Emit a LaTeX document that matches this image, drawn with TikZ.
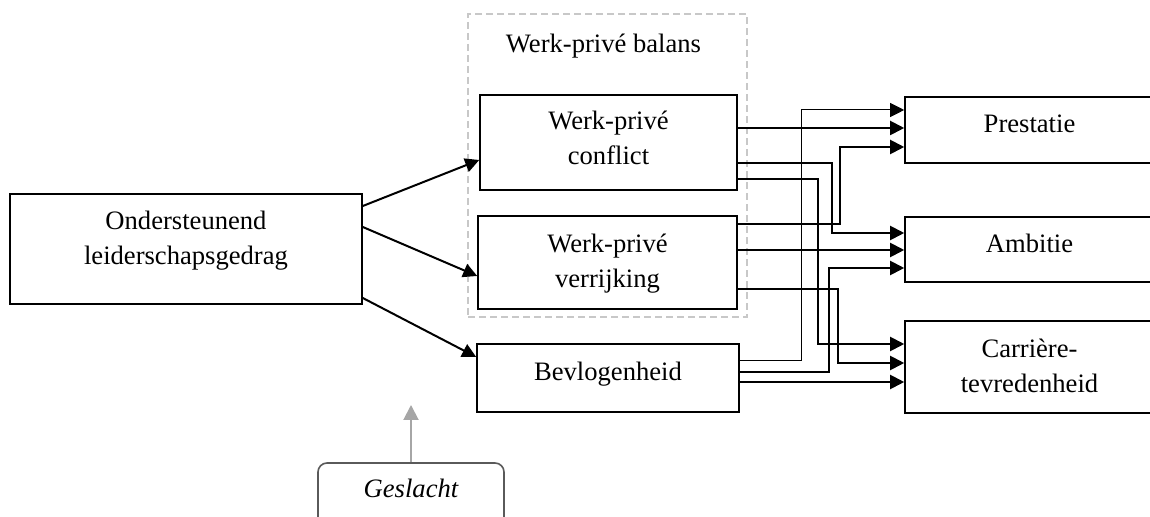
\documentclass[tikz,border=0pt]{standalone}
\usepackage{fontspec}
\setmainfont{Liberation Serif}
\usetikzlibrary{arrows.meta}
\definecolor{dashgray}{RGB}{200,200,200}
\definecolor{geslgray}{RGB}{90,90,90}
\definecolor{arrgray}{RGB}{166,166,166}
\begin{document}
\begin{tikzpicture}[x=0.5pt,y=-0.5pt,
  font=\fontsize{13.3}{17.5}\selectfont,
  box/.style={draw, line width=0.8pt, inner sep=0pt, align=center, anchor=base},
  conn/.style={line width=1pt, -{Triangle[length=7pt,width=7pt]}},
  thinconn/.style={line width=0.5pt, -{Triangle[length=7pt,width=7pt]}},
  grp/.style={draw=dashgray, line width=0.75pt, dash pattern=on 3.5pt off 2pt, inner sep=0pt},
]
\clip (0,0) rectangle (1150,517);

% group box
\node[grp, minimum width=139.5pt, minimum height=151.5pt] (wpb) at (607.5,165.5) {};
\node[anchor=base] (wpbt) at (603.5,53) {Werk-privé balans};

% boxes
\node[box, text width=176pt, text height=18pt, text depth=37pt] (ond) at (186,230) {Ondersteunend\\leiderschapsgedrag};
\node[box, text width=128.5pt, text height=17.5pt, text depth=30pt] (conf) at (608.5,130) {Werk-privé\\conflict};
\node[box, text width=129.5pt, text height=18.5pt, text depth=28pt] (verr) at (607.5,253) {Werk-privé\\verrijking};
\node[box, text width=131pt, text height=18.5pt, text depth=15.5pt] (bev) at (608,381) {Bevlogenheid};
\node[box, text width=124.5pt, text height=18pt, text depth=15pt] (pres) at (1029.5,133) {Prestatie};
\node[box, text width=124.5pt, text height=18pt, text depth=14.5pt] (amb) at (1029.5,253) {Ambitie};
\node[box, text width=124.5pt, text height=18.5pt, text depth=27.5pt] (carr) at (1029.5,358) {Carrière-\\tevredenheid};
\node[draw=geslgray, rounded corners=4.5pt, line width=0.8pt, inner sep=0pt, align=center, anchor=base,
      text width=93pt, text height=17pt, text depth=21.5pt, font=\fontsize{13.3}{17.5}\selectfont\itshape] (gesl) at (411,497) {Geslacht};

% left connectors
\draw[conn] (ond.east |- 0,206) -- (conf.west |- 0,160);
\draw[conn] (ond.east |- 0,227) -- (verr.west |- 0,276);
\draw[conn] (ond.east |- 0,298) -- (bev.west |- 0,357);

% right connectors
\draw[thinconn] (bev.east |- 0,361) -- (801,361) -- (801,110) -- (pres.west |- 0,110);
\draw[conn] (conf.east |- 0,128) -- (pres.west |- 0,128);
\draw[conn] (verr.east |- 0,224) -- (840,224) -- (840,147) -- (pres.west |- 0,147);

\draw[conn] (conf.east |- 0,163) -- (832,163) -- (832,233) -- (amb.west |- 0,233);
\draw[conn] (verr.east |- 0,250) -- (amb.west |- 0,250);
\draw[conn] (bev.east |- 0,372) -- (829,372) -- (829,268) -- (amb.west |- 0,268);

\draw[conn] (conf.east |- 0,179) -- (818,179) -- (818,344) -- (carr.west |- 0,344);
\draw[conn] (verr.east |- 0,289) -- (838,289) -- (838,363) -- (carr.west |- 0,363);
\draw[conn] (bev.east |- 0,382) -- (carr.west |- 0,382);

% moderator arrow
\coordinate (gtip) at (411,405);
\draw[line width=1pt, arrgray, -{Triangle[length=7.5pt,width=7.5pt]}] (gesl.north) -- (gtip);
\end{tikzpicture}
\end{document}
